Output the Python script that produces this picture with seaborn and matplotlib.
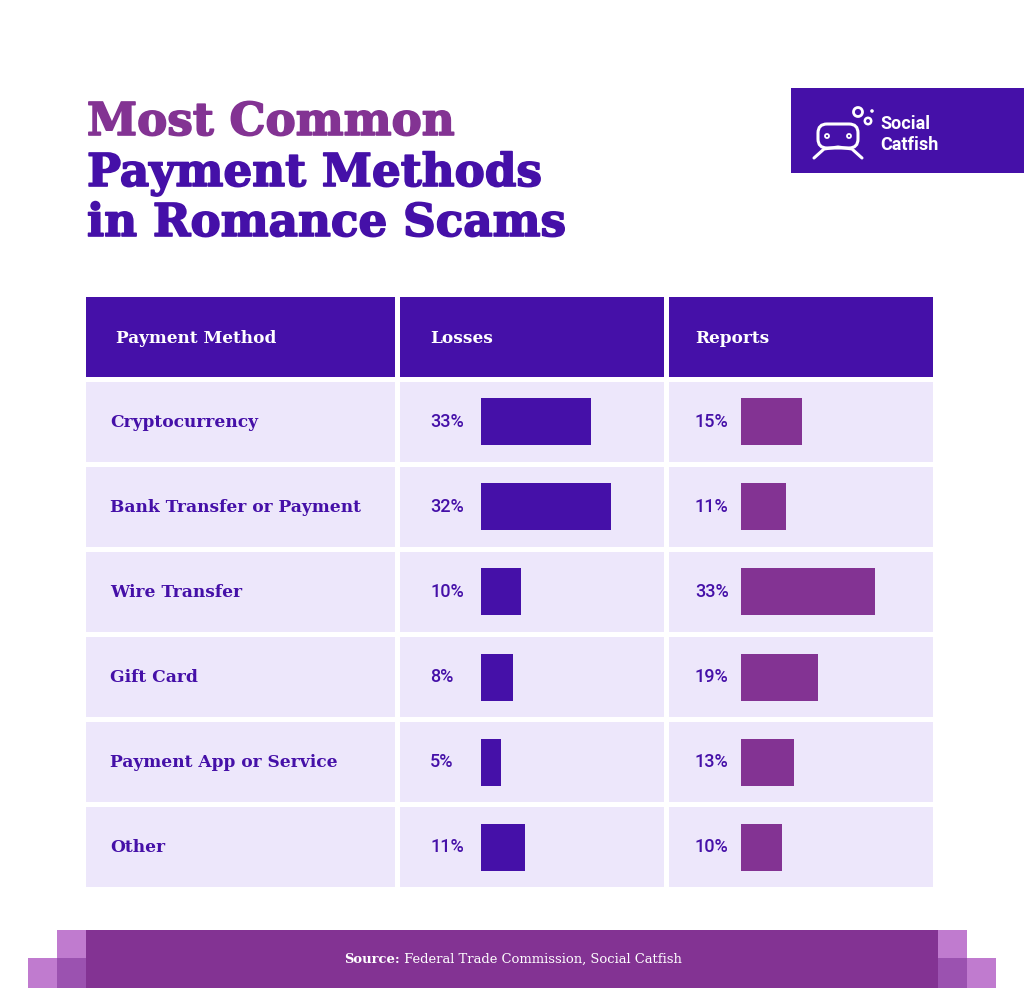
import os
import matplotlib
matplotlib.use("Agg")
import matplotlib.pyplot as plt
from matplotlib.patches import Rectangle, FancyBboxPatch, Circle
from matplotlib.font_manager import FontProperties
import matplotlib.patheffects as pe
import seaborn as sns
import pandas as pd

# ---------------- data ----------------
methods = ["Cryptocurrency", "Bank Transfer or Payment", "Wire Transfer",
           "Gift Card", "Payment App or Service", "Other"]
losses_labels = ["33%", "32%", "10%", "8%", "5%", "11%"]
reports_labels = ["15%", "11%", "33%", "19%", "13%", "10%"]
# bar lengths as drawn in the graphic (percent units)
losses_bars = [27.5, 32.5, 10, 8, 5, 11]
reports_bars = [15, 11, 33, 19, 13, 10]
headers = ["Payment Method", "Losses", "Reports"]
title_line1 = "Most Common"
title_lines23 = ["Payment Methods", "in Romance Scams"]
source_bold = "Source:"
source_text = " Federal Trade Commission, Social Catfish"

# ---------------- style ----------------
INDIGO = "#4510A8"
MAGENTA = "#833393"
ROWBG = "#EDE7FB"
LIGHT = "#C07BCF"
MID = "#9B52B0"
SANS = ["Roboto", "DejaVu Sans"]

sns.set_theme(style="white")
plt.rcParams["font.family"] = ["DejaVu Sans"]

ttf = os.path.join(matplotlib.get_data_path(), "fonts", "ttf")
def fp(name, size):
    p = FontProperties(fname=os.path.join(ttf, name))
    p.set_size(size)
    return p
SERIF_B = "DejaVuSerif-Bold.ttf"
SERIF_R = "DejaVuSerif.ttf"

W, H = 1024, 988
fig = plt.figure(figsize=(W / 100, H / 100), dpi=100)
fig.patch.set_facecolor("white")
renderer = fig.canvas.get_renderer()

bg = fig.add_axes([0, 0, 1, 1])
bg.set_xlim(0, W)
bg.set_ylim(H, 0)
bg.axis("off")

def rect(x0, y0, x1, y1, color, z=1):
    bg.add_patch(Rectangle((x0, y0), x1 - x0, y1 - y0, facecolor=color,
                           edgecolor="none", zorder=z))

def fit_size(s, fontfile, target_px, base=20):
    t = fig.text(0, 0, s, fontproperties=fp(fontfile, base))
    w = t.get_window_extent(renderer).width
    t.remove()
    return base * target_px / w

def text_w(s, prop):
    t = fig.text(0, 0, s, fontproperties=prop)
    w = t.get_window_extent(renderer).width
    t.remove()
    return w

def heavy(color, lw):
    return [pe.Stroke(linewidth=lw, foreground=color), pe.Normal()]

# ---------------- title ----------------
ts = fit_size(title_lines23[0], SERIF_B, 455)
bg.text(87, 135, title_line1, color=MAGENTA, fontproperties=fp(SERIF_B, ts),
        va="baseline", ha="left", path_effects=heavy(MAGENTA, 1.2))
for i, line in enumerate(title_lines23):
    bg.text(87, 186 + 50 * i, line, color=INDIGO, fontproperties=fp(SERIF_B, ts),
            va="baseline", ha="left", path_effects=heavy(INDIGO, 1.2))

# ---------------- logo ----------------
rect(791, 88, 1024, 173, INDIGO)
bg.text(880, 129, "Social", color="white", fontsize=13, fontweight="bold",
        family=SANS, va="baseline")
bg.text(880, 150, "Catfish", color="white", fontsize=13, fontweight="bold",
        family=SANS, va="baseline")
bg.add_patch(FancyBboxPatch((818, 124), 40, 24, boxstyle="round,pad=0,rounding_size=9",
                            facecolor="none", edgecolor="white", lw=2.2, zorder=3))
bg.add_patch(Circle((858, 112), 4.5, facecolor="none", edgecolor="white", lw=2, zorder=3))
bg.add_patch(Circle((868, 121), 3.2, facecolor="none", edgecolor="white", lw=1.8, zorder=3))
bg.add_patch(Circle((872, 111), 1.8, facecolor="white", edgecolor="none", zorder=3))
bg.add_patch(Circle((827, 136), 2, facecolor="none", edgecolor="white", lw=1.3, zorder=3))
bg.add_patch(Circle((849, 136), 2, facecolor="none", edgecolor="white", lw=1.3, zorder=3))
bg.plot([814, 824, 838, 852, 862], [158, 149, 147, 149, 158], color="white", lw=2.2, zorder=3)

# ---------------- table ----------------
cols = [(86, 395), (400, 664), (669, 933)]
for c0, c1 in cols:
    rect(c0, 297, c1, 377, INDIGO)
hs = fit_size(headers[0], SERIF_B, 160)
header_x = [116, 430, 695]
for hx, h in zip(header_x, headers):
    bg.text(hx, 338, h, color="white", fontproperties=fp(SERIF_B, hs),
            va="center", ha="left")

rs = fit_size(methods[1], SERIF_B, 250)
row_top0, pitch, cell_h = 382, 85, 80
for i, m in enumerate(methods):
    y0 = row_top0 + pitch * i
    for c0, c1 in cols:
        rect(c0, y0, c1, y0 + cell_h, ROWBG)
    yc = y0 + cell_h / 2
    bg.text(110, yc, m, color=INDIGO, fontproperties=fp(SERIF_B, rs),
            va="center", ha="left")
    bg.text(430, yc, losses_labels[i], color=INDIGO, fontsize=13,
            fontweight="medium", family=SANS, va="center", ha="left")
    bg.text(695, yc, reports_labels[i], color=INDIGO, fontsize=13,
            fontweight="medium", family=SANS, va="center", ha="left")

df = pd.DataFrame({"method": methods, "losses": losses_bars, "reports": reports_bars})

def bar_axes(left_px, width_px, px_per_unit, col, color):
    top_px, bot_px = 379.5, 889.5
    ax = fig.add_axes([left_px / W, 1 - bot_px / H, width_px / W, (bot_px - top_px) / H])
    sns.barplot(data=df, x=col, y="method", orient="h", color=color,
                saturation=1, width=47 / 85, linewidth=0, edgecolor="none", ax=ax)
    ax.set_xlim(0, width_px / px_per_unit)
    ax.set_ylim(5.5, -0.5)
    ax.axis("off")
    ax.patch.set_alpha(0)
    return ax

bar_axes(481, 200, 4.0, "losses", INDIGO)
bar_axes(741, 190, 4.06, "reports", MAGENTA)

# ---------------- footer ----------------
rect(57, 930, 86, 958, LIGHT)
rect(28, 958, 57, 988, LIGHT)
rect(57, 958, 86, 988, MID)
rect(938, 930, 967, 958, LIGHT)
rect(967, 958, 996, 988, LIGHT)
rect(938, 958, 967, 988, MID)
rect(86, 930, 938, 988, MAGENTA)
ss = fit_size(source_bold + source_text, SERIF_R, 335)
pb = fp(SERIF_B, ss)
pr = fp(SERIF_R, ss)
wb = text_w(source_bold, pb)
bg.text(344, 959, source_bold, color="white", fontproperties=pb, va="center", ha="left")
bg.text(344 + wb, 959, source_text, color="white", fontproperties=pr, va="center", ha="left")

fig.savefig("out.png", dpi=100, facecolor="white")
